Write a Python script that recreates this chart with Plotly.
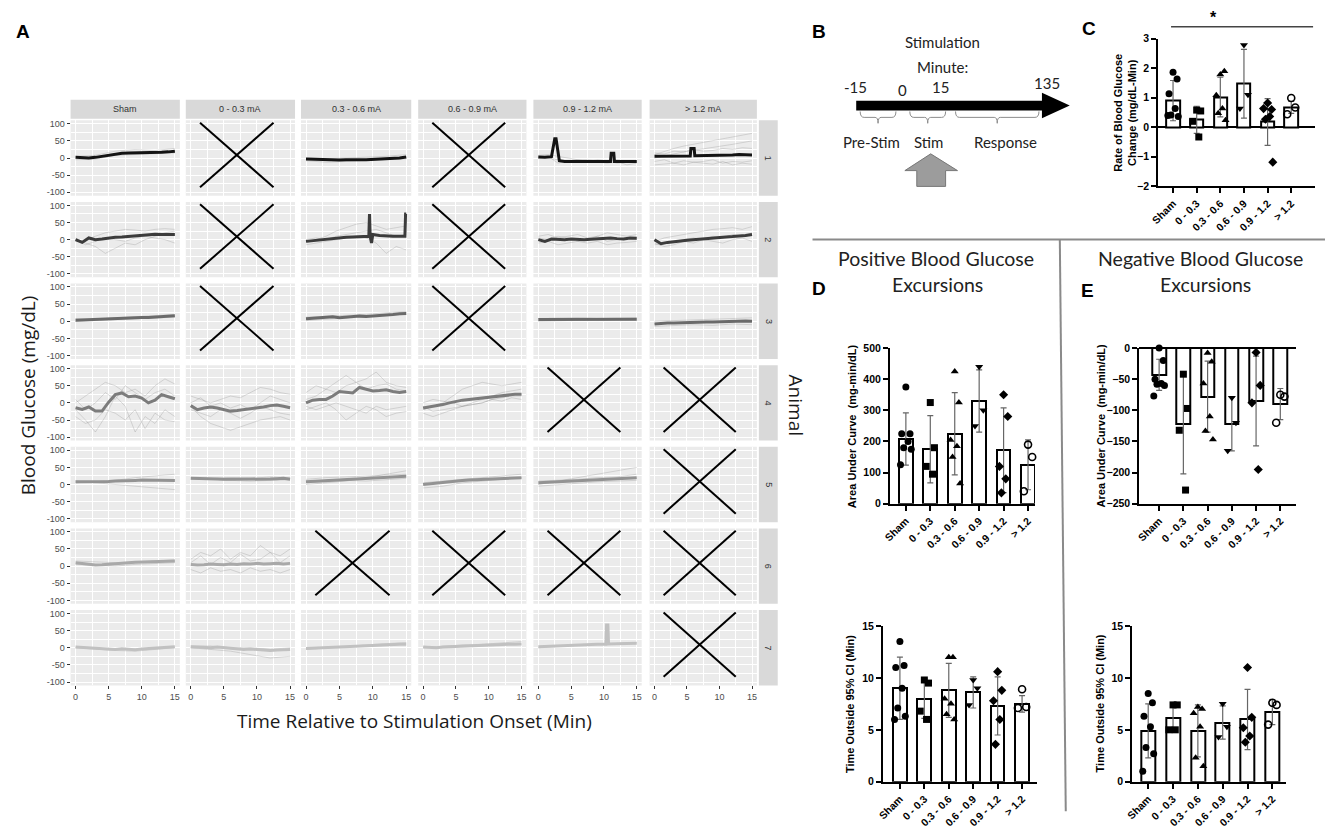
import plotly.graph_objects as go

W, H = 1325, 838
def PX(x): return x / W
def PY(y): return 1 - y / H

# ---------------- Panel A data ----------------
facet_cols = ["Sham", "0 - 0.3 mA", "0.3 - 0.6 mA", "0.6 - 0.9 mA", "0.9 - 1.2 mA", "> 1.2 mA"]
animals = ["1", "2", "3", "4", "5", "6", "7"]
t_mean = list(range(16))
t6 = [0, 3, 6, 9, 12, 15]
t11 = [0, 1.5, 3, 4.5, 6, 7.5, 9, 10.5, 12, 13.5, 15]
x_ticks = [0, 5, 10, 15]
y_ticks = [-100, -50, 0, 50, 100]

missing = [(1, 2), (1, 4), (2, 2), (2, 4), (3, 2), (3, 4), (4, 5), (4, 6),
           (5, 6), (6, 3), (6, 4), (6, 5), (6, 6), (7, 6)]

mean_r1 = {1: [2, 1, 0, 2, 5, 9, 12, 14, 15, 15, 16, 16, 17, 17, 18, 20],
           3: [-3, -4, -5, -6, -7, -6, -5, -6, -5, -5, -4, -5, -3, -2, 0, 3]}
mean_r2 = {1: [0, -8, 5, 0, 2, 5, 7, 8, 10, 12, 14, 15, 16, 15, 14, 15],
           5: [0, -5, 2, 0, 0, 2, 0, 0, 1, 2, 4, 5, 3, 2, 5, 4],
           6: [0, -12, -8, -5, -4, -2, 0, 2, 3, 5, 6, 8, 9, 10, 12, 15]}
mean_r3 = {1: [3, 4, 5, 5, 6, 7, 8, 9, 10, 10, 11, 11, 12, 12, 14, 16],
           3: [7, 8, 9, 12, 13, 10, 12, 14, 15, 14, 15, 16, 18, 20, 22, 23],
           5: [5, 5, 6, 5, 5, 6, 5, 6, 5, 5, 6, 5, 6, 5, 5, 6],
           6: [-8, -6, -5, -5, -4, -4, -3, -3, -2, -2, -1, 0, 0, 0, 1, 0]}
mean_r4 = {1: [-14, -19, -12, -24, -24, 2, 24, 29, 18, 20, 14, 0, 8, 24, 18, 12],
           2: [-8, -20, -15, -12, -15, -20, -24, -22, -20, -18, -16, -12, -8, -6, -10, -14],
           3: [0, 8, 10, 10, 20, 33, 31, 29, 45, 40, 35, 36, 38, 33, 30, 33],
           4: [-15, -12, -10, -5, 0, 5, 8, 10, 12, 15, 18, 20, 22, 24, 25, 25]}
mean_r5 = {1: [8, 8, 7, 7, 8, 9, 10, 10, 11, 12, 13, 13, 14, 14, 13, 12],
           2: [18, 18, 17, 16, 16, 15, 15, 14, 14, 14, 15, 15, 16, 17, 18, 15],
           3: [8, 9, 10, 12, 13, 14, 15, 16, 17, 18, 19, 20, 21, 22, 23, 24],
           4: [0, 2, 5, 8, 10, 11, 12, 13, 14, 15, 16, 17, 18, 19, 20, 20],
           5: [5, 6, 8, 9, 10, 11, 12, 13, 14, 15, 15, 16, 18, 18, 19, 20]}
mean_r6 = {1: [10, 8, 5, 3, 4, 6, 8, 9, 10, 11, 12, 13, 14, 14, 15, 15],
           2: [5, 3, 4, 6, 5, 4, 6, 5, 7, 6, 8, 6, 7, 8, 6, 8]}
mean_r7 = {1: [2, 1, 0, -2, -3, -4, -5, -3, -4, -6, -4, -3, -1, 0, 2, 3],
           2: [3, 2, 1, 0, 2, 0, -2, -3, -5, -4, -6, -8, -8, -7, -6, -5],
           3: [-2, -1, 0, 1, 2, 3, 4, 4, 5, 6, 7, 8, 8, 9, 10, 10],
           4: [2, 1, 0, 2, 3, 4, 5, 5, 6, 7, 8, 9, 9, 10, 10, 11]}

# facets whose mean trace has spikes (own time points)
spike_r1c5_t = [0, 1, 2, 2.3, 2.5, 2.7, 3.0, 3.2, 4, 5, 6, 7, 8, 9, 10, 11, 11.1, 11.5, 11.6, 12, 13, 14, 15]
spike_r1c5_v = [3, 2, 4, 30, 56, 56, 20, -8, -10, -10, -11, -10, -10, -10, -10, -10, 14, 14, -10, -10, -9, -10, -10]
spike_r1c6_t = [0, 1, 2, 3, 4, 5, 5.5, 5.6, 6.1, 6.2, 7, 8, 9, 10, 11, 12, 13, 14, 15]
spike_r1c6_v = [5, 5, 6, 5, 6, 6, 6, 28, 28, 7, 7, 8, 8, 8, 9, 9, 10, 9, 9]
spike_r2c3_t = [0, 1, 2, 3, 4, 5, 6, 7, 8, 9, 9.4, 9.5, 9.6, 9.8, 10, 11, 12, 13, 14, 14.8, 14.9, 15]
spike_r2c3_v = [-5, -3, 0, 3, 5, 6, 7, 8, 8, 10, 10, 75, 10, -10, 15, 12, 10, 10, 10, 10, 75, 75]
spike_r7c5_t = [0, 1, 2, 3, 4, 5, 6, 7, 8, 9, 10, 10.3, 10.4, 10.6, 10.7, 11, 12, 13, 14, 15]
spike_r7c5_v = [3, 4, 5, 6, 6, 7, 8, 8, 9, 10, 10, 10, 66, 66, 11, 11, 12, 12, 12, 13]

trials_r1 = {1: [[5, 8, 20, 25, 22, 28], [-5, -3, 8, 10, 14, 15]],
             3: [[0, -2, 0, 2, 5, 10], [-8, -12, -10, -8, -6, -2]],
             5: [[5, 0, -5, -10, -12, -10, -5, -8, -15, -12, -10],
                 [0, 5, -15, -8, -5, -10, -12, -15, -10, -20, -15],
                 [8, 10, 5, 0, -5, -5, -8, -10, -5, -10, -12]],
             6: [[10, 20, 28, 35, 40, 45, 50, 55, 60, 65, 72],
                 [0, 5, 12, 18, 22, 28, 30, 35, 40, 45, 50],
                 [-10, -5, -15, -8, -12, -10, -5, -15, -10, -12, -8],
                 [-20, -18, -15, -20, -12, -15, -18, -10, -20, -15, -18],
                 [15, 12, 20, 18, 25, 20, 22, 28, 25, 30, 28]]}
trials_r2 = {1: [[5, -10, -20, -40, -25, -10, -15, 0, 10, 20, 25],
                 [-5, 0, 10, 20, 25, 30, 28, 25, 30, 32, 30],
                 [0, -15, -5, 5, 0, -5, 5, 10, 5, 0, -10]],
             3: [[-10, 0, 10, 25, 35, 45, 50, 40, 30, 35, 40],
                 [-15, -10, -5, 0, 5, 10, 5, -10, -40, -20, -30],
                 [0, 5, 0, 10, 15, 20, 25, 30, 20, 10, 15]],
             5: [[5, 0, 10, 5, -5, 0, 10, -5, 0, 5, 0],
                 [-10, -5, -15, -10, -5, -10, -5, -15, -10, -8, -5],
                 [10, 15, 5, 10, 15, 5, 10, 20, 15, 10, 15]],
             6: [[-5, 5, 10, 15, 20, 25, 30, 32, 35, 30, 38],
                 [-15, -10, -5, 0, 5, 0, 10, 5, 15, 10, 20],
                 [-10, -20, -15, -5, -10, 0, -5, -10, 0, 5, -5]]}
trials_r3 = {1: [[0, 2, 5, 8, 10, 12], [8, 6, 10, 14, 18, 20]],
             3: [[2, 5, 10, 15, 18, 20], [12, 14, 16, 20, 25, 28]],
             5: [[0, 2, 3, 2, 4, 3], [8, 9, 10, 8, 9, 10]],
             6: [[-15, -12, -10, -12, -8, -10], [0, 2, 5, 6, 8, 10]]}
trials_r4 = {1: [[-20, -50, -85, -40, 20, -10, -85, -40, -60, -20, -40],
                 [0, 20, 40, 60, 50, 30, 40, 20, 50, 70, 55],
                 [-40, -60, -50, -20, -30, -50, -20, -75, -30, -50, -55],
                 [10, -20, 0, 30, 10, 50, 30, 10, 30, 40, 20]],
             2: [[-10, -40, -60, -70, -80, -70, -60, -50, -45, -40, -50],
                 [20, 10, 0, 10, 20, 15, 30, 45, 40, 30, 25],
                 [-20, -30, -40, -20, -30, -45, -30, -10, -20, -30, -35],
                 [0, 15, -10, 0, -15, -5, -20, 0, 20, 10, 0]],
             3: [[-20, -10, 0, -20, -50, -30, -10, -20, -40, -30, -25],
                 [10, 20, 40, 60, 80, 60, 70, 90, 60, 50, 45],
                 [30, 50, 40, 30, 50, 60, 40, 50, 55, 40, 35],
                 [-10, -20, -10, 0, -10, -20, -30, -10, -20, -15, -10]],
             4: [[-20, -10, 0, 20, 40, 50, 60, 55, 50, 55, 60],
                 [-30, -40, -30, -20, -10, -5, 0, 10, 5, 15, 10],
                 [-10, -25, -20, -15, -10, 0, 10, 20, 30, 35, 40],
                 [0, 10, 5, 0, -10, -5, 0, 10, 15, 20, 20]]}
trials_r5 = {1: [[5, 8, 12, 20, 25, 30], [10, 5, 0, -5, -10, -15]],
             2: [[20, 15, 12, 10, 12, 14], [15, 18, 20, 18, 22, 20]],
             3: [[0, 5, 10, 20, 30, 40], [15, 20, 22, 25, 28, 30], [5, 8, 12, 10, 15, 18]],
             4: [[-10, -5, 5, 10, 15, 20], [5, 10, 15, 20, 25, 30]],
             5: [[0, 10, 20, 30, 40, 50], [10, 12, 15, 20, 22, 30], [-5, 0, 5, 8, 10, 12]]}
trials_r6 = {1: [[15, 12, 10, 12, 15, 18], [5, 2, 0, 5, 8, 10]],
             2: [[20, 40, 30, 50, 20, 40, 30, 60, 40, 30, 50],
                 [-10, -20, -5, -15, -10, -20, -5, -15, -10, -20, -10],
                 [10, 30, 5, 25, 10, 35, 15, 20, 40, 10, 30]]}
trials_r7 = {1: [[0, -5, -8, -10, -5, 0]],
             2: [[0, -5, -10, -20, -30, -25], [5, 5, 0, 0, -5, 0]],
             3: [[-5, 0, 5, 8, 12, 15]],
             4: [[0, 5, 8, 10, 15, 18]],
             5: [[0, 5, 8, 10, 12, 15]]}

# ---------------- Bar panels data ----------------
bar_cats = ["Sham", "0 - 0.3", "0.3 - 0.6", "0.6 - 0.9", "0.9 - 1.2", "> 1.2"]
bar_symbols = ["circle", "square", "triangle-up", "triangle-down", "diamond", "circle-open"]

c_mean = [0.9, 0.25, 1.02, 1.47, 0.18, 0.67]
c_sd = [0.68, 0.46, 0.67, 1.16, 0.79, 0.2]
c_points = [[1.86, 1.63, 1.13, 0.63, 0.41, 0.36, 0.4], [0.58, 0.55, 0.2, -0.33],
            [1.78, 1.89, 1.08, 0.63, 0.47, 0.24], [2.78, 1.1, 0.63],
            [0.82, 0.6, 0.63, 0.36, 0.27, -1.18], [0.99, 0.67, 0.44]]

d_mean = [208, 175, 225, 330, 172, 125]
d_sd = [84, 108, 132, 100, 136, 80]
d_points = [[375, 225, 225, 200, 180, 175, 125], [325, 180, 120, 95],
            [425, 325, 205, 185, 150, 65], [440, 300, 250],
            [350, 280, 120, 80, 35], [190, 150, 40]]

e_mean = [-43, -122, -78, -122, -85, -90]
e_sd = [25, 80, 57, 43, 72, 25]
e_points = [[0, -20, -50, -57, -58, -60, -77], [-42, -97, -132, -228],
            [-8, -22, -57, -110, -133, -147], [-80, -120, -165],
            [-7, -60, -88, -195], [-75, -78, -120]]

db_mean = [9.0, 8.0, 8.8, 8.6, 7.3, 7.5]
db_sd = [3.0, 1.9, 2.6, 1.5, 2.8, 0.8]
db_points = [[13.5, 11.2, 11.0, 9.0, 7.1, 6.3, 6.0], [9.8, 9.5, 6.8, 6.0],
             [12.0, 12.0, 8.0, 7.5, 6.5, 6.0], [9.8, 9.0, 7.4],
             [10.6, 8.8, 7.8, 6.0, 3.6], [8.9, 7.2, 7.1]]

eb_mean = [4.9, 6.1, 4.9, 5.7, 6.0, 6.7]
eb_sd = [2.6, 1.3, 2.5, 1.6, 2.9, 1.2]
eb_points = [[8.5, 7.6, 6.3, 5.3, 3.3, 2.7, 1.0], [7.4, 7.4, 5.0, 5.0],
             [7.2, 7.0, 6.6, 5.3, 2.3, 1.5], [7.5, 5.3, 4.3],
             [11.0, 6.2, 5.2, 4.4, 3.8], [7.6, 7.4, 5.5]]

# ---------------- styles / geometry ----------------
MEAN_COLORS = ["#141414", "#3c3c3c", "#6a6a6a", "#7c7c7c", "#939393", "#a9a9a9", "#c1c1c1"]
TRIAL_COLOR = "rgba(110,110,110,0.28)"
COL_PX = [(62, 172), (178, 288), (294, 405), (412, 521), (528, 637), (645, 753)]
ROW_TOP, ROW_PITCH, ROW_H = 116, 82.8, 76.5
X_T = [1.4, 12.5]
X_Y = [-85, 103]
OFFS = [0.0, 0.17, -0.17, 0.09, -0.09, 0.22, -0.22]
GG_FONT = "Liberation Sans, Arial, sans-serif"
TITLE_FONT = "Open Sans, sans-serif"
CAL_FONT = "Lato, Carlito, sans-serif"
BOLD_TICK = dict(family="Arial, Liberation Sans, sans-serif", size=10.5, color="black", weight="bold")

means_by_row = [mean_r1, mean_r2, mean_r3, mean_r4, mean_r5, mean_r6, mean_r7]
trials_by_row = [trials_r1, trials_r2, trials_r3, trials_r4, trials_r5, trials_r6, trials_r7]
spikes = {(1, 5): (spike_r1c5_t, spike_r1c5_v), (1, 6): (spike_r1c6_t, spike_r1c6_v),
          (2, 3): (spike_r2c3_t, spike_r2c3_v), (7, 5): (spike_r7c5_t, spike_r7c5_v)}

layout = {}
traces = []
shapes = []
annotations = []
counter = [0]


def new_axes():
    counter[0] += 1
    n = counter[0]
    s = "" if n == 1 else str(n)
    return "x" + s, "y" + s, "xaxis" + s, "yaxis" + s


def ann(x, y, text, size, family=GG_FONT, color="black", angle=0, xanchor="center", yanchor="middle"):
    annotations.append(dict(x=PX(x), y=PY(y), xref="paper", yref="paper", text=text, showarrow=False,
                            font=dict(size=size, family=family, color=color), textangle=angle,
                            xanchor=xanchor, yanchor=yanchor))


def path_px(pts):
    out = []
    for p in pts:
        cmd = p[0]
        coords = p[1:]
        vals = []
        for i in range(0, len(coords), 2):
            vals.append("%.5f,%.5f" % (PX(coords[i]), PY(coords[i + 1])))
        out.append(cmd + " " + " ".join(vals))
    return " ".join(out)


# ---------------- Panel A ----------------
for ri in range(7):
    y0 = ROW_TOP + ri * ROW_PITCH
    y1 = y0 + ROW_H
    for ci in range(6):
        x0, x1 = COL_PX[ci]
        xr, yr, xk, yk = new_axes()
        shapes.append(dict(type="rect", xref="paper", yref="paper", x0=PX(x0), x1=PX(x1),
                           y0=PY(y1), y1=PY(y0), fillcolor="#EBEBEB", line=dict(width=0), layer="below"))
        bottom = ri == 6
        left = ci == 0
        layout[xk] = dict(domain=[PX(x0), PX(x1)], anchor=yr, range=[-0.75, 15.75],
                          tickmode="array", tickvals=x_ticks, ticktext=[str(v) for v in x_ticks],
                          showticklabels=bottom, ticks="outside" if bottom else "", ticklen=3,
                          tickcolor="#333333", tickfont=dict(size=9, color="#4d4d4d", family=GG_FONT),
                          showgrid=True, gridcolor="white", gridwidth=1.1, zeroline=False, showline=False,
                          minor=dict(tickmode="array", tickvals=[2.5, 7.5, 12.5], showgrid=True,
                                     gridcolor="white", gridwidth=0.6, ticks=""),
                          fixedrange=True)
        layout[yk] = dict(domain=[PY(y1), PY(y0)], anchor=xr, range=[-110, 110],
                          tickmode="array", tickvals=y_ticks, ticktext=[str(v) for v in y_ticks],
                          showticklabels=left, ticks="outside" if left else "", ticklen=3,
                          tickcolor="#333333", tickfont=dict(size=9, color="#4d4d4d", family=GG_FONT),
                          showgrid=True, gridcolor="white", gridwidth=1.1, zeroline=False, showline=False,
                          minor=dict(tickmode="array", tickvals=[-75, -25, 25, 75], showgrid=True,
                                     gridcolor="white", gridwidth=0.6, ticks=""),
                          fixedrange=True)
        key = (ri + 1, ci + 1)
        if key in missing:
            for (xa, ya, xb, yb) in [(X_T[0], X_Y[1], X_T[1], X_Y[0]), (X_T[0], X_Y[0], X_T[1], X_Y[1])]:
                shapes.append(dict(type="line", xref=xr, yref=yr, x0=xa, y0=ya, x1=xb, y1=yb,
                                   line=dict(color="black", width=2), layer="above"))
            continue
        for tr in trials_by_row[ri].get(ci + 1, []):
            tt = t6 if len(tr) == 6 else t11
            traces.append(go.Scatter(x=tt, y=tr, mode="lines", xaxis=xr, yaxis=yr,
                                     line=dict(color=TRIAL_COLOR, width=0.8), hoverinfo="skip"))
        if key in spikes:
            tt, vv = spikes[key]
        else:
            tt, vv = t_mean, means_by_row[ri][ci + 1]
        traces.append(go.Scatter(x=tt, y=vv, mode="lines", xaxis=xr, yaxis=yr,
                                 line=dict(color=MEAN_COLORS[ri], width=3), hoverinfo="skip"))

# strips
for ci, lab in enumerate(facet_cols):
    x0, x1 = COL_PX[ci]
    shapes.append(dict(type="rect", xref="paper", yref="paper", x0=PX(x0), x1=PX(x1),
                       y0=PY(114.5), y1=PY(95), fillcolor="#D9D9D9", line=dict(width=0), layer="below"))
    ann((x0 + x1) / 2, 104.8, lab, 9, color="#333333")
for ri, lab in enumerate(animals):
    y0 = ROW_TOP + ri * ROW_PITCH
    shapes.append(dict(type="rect", xref="paper", yref="paper", x0=PX(755), x1=PX(774),
                       y0=PY(y0 + ROW_H), y1=PY(y0), fillcolor="#D9D9D9", line=dict(width=0), layer="below"))
    ann(764.5, y0 + ROW_H / 2, lab, 9, color="#333333", angle=90)

ann(408, 725, "Time Relative to Stimulation Onset (Min)", 19, family=TITLE_FONT, color="#1a1a1a")
ann(19, 395, "Blood Glucose (mg/dL)", 19, family=TITLE_FONT, color="#1a1a1a", angle=-90)
ann(792, 405, "Animal", 19, family=TITLE_FONT, color="#1a1a1a", angle=90)

# ---------------- Panel B (timeline schematic) ----------------
shapes.append(dict(type="rect", xref="paper", yref="paper", x0=PX(853), x1=PX(1042), y0=PY(106), y1=PY(96),
                   fillcolor="black", line=dict(width=0)))
shapes.append(dict(type="path", xref="paper", yref="paper",
                   path=path_px([("M", 1040, 88), ("L", 1068, 101), ("L", 1040, 114), ("Z",)]),
                   fillcolor="black", line=dict(width=0)))
for (bx0, bx1) in [(857, 893), (907, 943), (953, 1037)]:
    xc = (bx0 + bx1) / 2
    shapes.append(dict(type="path", xref="paper", yref="paper",
                       path=path_px([("M", bx0, 107), ("Q", bx0, 113, bx0 + 4, 113), ("L", xc - 3, 113),
                                     ("Q", xc, 113, xc, 119), ("Q", xc, 113, xc + 3, 113),
                                     ("L", bx1 - 4, 113), ("Q", bx1, 113, bx1, 107)]),
                       line=dict(color="#8c8c8c", width=1)))
shapes.append(dict(type="path", xref="paper", yref="paper",
                   path=path_px([("M", 928, 150), ("L", 955, 167), ("L", 943, 167), ("L", 943, 183),
                                 ("L", 914, 183), ("L", 914, 167), ("L", 902, 167), ("Z",)]),
                   fillcolor="#9c9c9c", line=dict(color="#777777", width=1)))
ann(940, 37, "Stimulation", 15, family=CAL_FONT, color="#222")
ann(940, 62, "Minute:", 15, family=CAL_FONT, color="#222")
ann(852, 82, "-15", 15, family=CAL_FONT, color="#222")
ann(900, 85, "0", 15, family=CAL_FONT, color="#222")
ann(938, 82, "15", 15, family=CAL_FONT, color="#222")
ann(1045, 78, "135", 15, family=CAL_FONT, color="#222")
ann(868, 138, "Pre-Stim", 15, family=CAL_FONT, color="#222")
ann(926, 138, "Stim", 15, family=CAL_FONT, color="#222")
ann(1003, 138, "Response", 15, family=CAL_FONT, color="#222")

# separators
shapes.append(dict(type="line", xref="paper", yref="paper", x0=PX(809), x1=PX(1325), y0=PY(237), y1=PY(237),
                   line=dict(color="#8a8a8a", width=2)))
shapes.append(dict(type="line", xref="paper", yref="paper", x0=PX(1058), x1=PX(1064), y0=PY(237), y1=PY(817),
                   line=dict(color="#8a8a8a", width=2)))

ann(933, 256, "Positive Blood Glucose", 19.5, family=CAL_FONT, color="#222")
ann(935, 283, "Excursions", 19.5, family=CAL_FONT, color="#222")
ann(1200, 256, "Negative Blood Glucose", 19.5, family=CAL_FONT, color="#222")
ann(1205, 283, "Excursions", 19.5, family=CAL_FONT, color="#222")

# panel letters
for (lx, ly, lt) in [(14, 26, "A"), (816, 26, "B"), (1087, 23, "C"), (816, 287, "D"), (1086, 289, "E")]:
    ann(lx, ly, "<b>%s</b>" % lt, 19, family="Arial, Liberation Sans, sans-serif")


# ---------------- Bar panels ----------------
def bar_panel(geom, means, sds, points, zero_line, ytitle, title_x):
    ax_x, c0, sp, x_end, y_top, y_bot, yrange, dtick = geom
    xr, yr, xk, yk = new_axes()
    r0 = -(c0 - ax_x) / sp
    r1 = (x_end - c0) / sp
    layout[xk] = dict(domain=[PX(ax_x), PX(x_end)], range=[r0, r1], anchor=yr, tickmode="array",
                      tickvals=list(range(6)), ticktext=bar_cats, tickangle=-45, ticks="outside",
                      ticklen=5, tickwidth=2, tickcolor="black", showline=True, linewidth=2,
                      linecolor="black", showgrid=False, zeroline=False, tickfont=BOLD_TICK, fixedrange=True)
    layout[yk] = dict(domain=[PY(y_bot), PY(y_top)], range=yrange, anchor=xr, tickmode="linear", tick0=0,
                      dtick=dtick, ticks="outside", ticklen=5, tickwidth=2, tickcolor="black", showline=True,
                      linewidth=2, linecolor="black", showgrid=False, zeroline=zero_line,
                      zerolinecolor="black", zerolinewidth=2, tickfont=BOLD_TICK, fixedrange=True)
    traces.append(go.Bar(x=list(range(6)), y=means, width=0.56, xaxis=xr, yaxis=yr,
                         marker=dict(color="white", line=dict(color="black", width=2)),
                         error_y=dict(type="data", array=sds, visible=True, color="#666666",
                                      thickness=1.2, width=3),
                         hoverinfo="skip"))
    for i, pts in enumerate(points):
        xs = [i + OFFS[j % len(OFFS)] for j in range(len(pts))]
        sym = bar_symbols[i]
        traces.append(go.Scatter(x=xs, y=pts, mode="markers", xaxis=xr, yaxis=yr, cliponaxis=False,
                                 marker=dict(symbol=sym, size=7, color="black",
                                             line=dict(color="black", width=1.6 if "open" in sym else 0)),
                                 hoverinfo="skip"))
    ann(title_x, (y_top + y_bot) / 2, "<b>%s</b>" % ytitle, 11, family="Arial, Liberation Sans, sans-serif",
        angle=-90)


bar_panel((1157, 1172, 23.8, 1315, 33, 183, [-2, 3], 1), c_mean, c_sd, c_points, True,
          "Rate of Blood Glucose<br>Change (mg/dL-Min)", 1124)
bar_panel((887, 903, 24.6, 1033, 347, 505, [0, 500], 100), d_mean, d_sd, d_points, False,
          "Area Under Curve  (mg-min/dL)", 849)
bar_panel((1138, 1158, 24.4, 1296, 347, 505, [-250, 0], 50), e_mean, e_sd, e_points, True,
          "Area Under Curve  (mg-min/dL)", 1099)
bar_panel((880, 897, 24.6, 1035, 629, 787, [0, 15], 5), db_mean, db_sd, db_points, False,
          "Time Outside 95% CI (Min)", 847)
bar_panel((1131, 1147, 25, 1286, 629, 787, [0, 15], 5), eb_mean, eb_sd, eb_points, False,
          "Time Outside 95% CI (Min)", 1098)

# significance bar in C
shapes.append(dict(type="line", xref="paper", yref="paper", x0=PX(1170), x1=PX(1313), y0=PY(21), y1=PY(21),
                   line=dict(color="#444444", width=1.5)))
ann(1213, 12, "<b>*</b>", 16, family="Arial, Liberation Sans, sans-serif")

fig = go.Figure(data=traces)
fig.update_layout(width=W, height=H, margin=dict(l=0, r=0, t=0, b=0), paper_bgcolor="white",
                  plot_bgcolor="rgba(0,0,0,0)", showlegend=False, shapes=shapes, annotations=annotations,
                  bargap=0, **layout)
fig.write_html("out.html", config={"displayModeBar": False},
               post_script="document.body.style.margin='0';document.body.style.overflow='hidden';")
